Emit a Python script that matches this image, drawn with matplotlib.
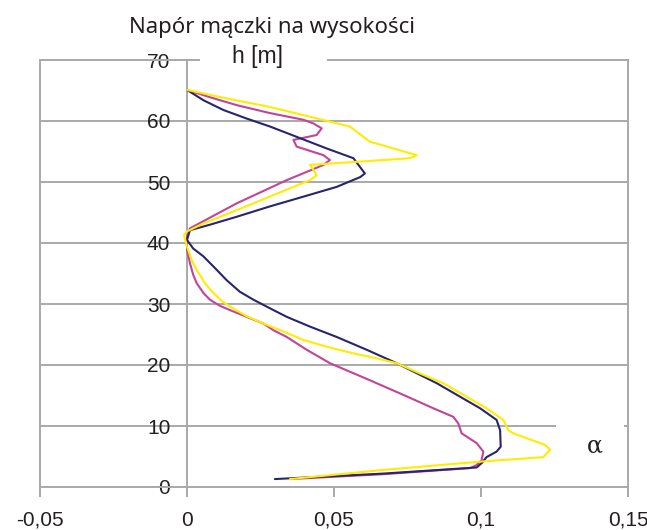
import matplotlib
matplotlib.use("Agg")
import matplotlib.pyplot as plt
from matplotlib.patches import Rectangle

# dane: wysokość h [m] i współczynnik alfa
h_granat = [65.1, 63.4, 61.8, 60.4, 59.1, 57.2, 55.5, 53.9, 51.4, 50.8, 49.2, 47.6,
            46.0, 44.3, 43.0, 42.1, 40.5, 39.1, 37.8, 35.9, 33.9, 32.0, 30.7, 29.3,
            27.9, 26.3, 24.6, 22.5, 20.3, 17.0, 12.9, 11.0, 9.3, 6.6, 5.8, 4.9,
            3.9, 3.2, 2.2, 1.3]
a_granat = [0.0, 0.0056, 0.0124, 0.0203, 0.0282, 0.0384, 0.0475, 0.0566, 0.0605,
            0.0589, 0.0509, 0.0396, 0.0282, 0.0169, 0.0078, 0.001, 0.0, 0.0021,
            0.0056, 0.0095, 0.0135, 0.018, 0.0226, 0.0282, 0.0339, 0.0418, 0.0509,
            0.0611, 0.0713, 0.085, 0.0997, 0.1053, 0.1065, 0.1067, 0.1053, 0.1019,
            0.1002, 0.0985, 0.0668, 0.0299]

h_magenta = [65.1, 63.9, 62.6, 61.3, 60.2, 59.6, 58.8, 57.7, 56.9, 55.8, 54.4, 53.6,
             52.8, 50.3, 46.5, 42.4, 41.0, 38.9, 36.7, 34.8, 33.4, 31.8, 30.7, 29.7,
             29.0, 27.9, 26.8, 25.7, 24.6, 22.5, 20.3, 18.9, 17.5, 15.1, 12.9, 11.5,
             10.4, 8.8, 7.2, 5.8, 4.4, 3.6, 3.1, 2.1, 1.3]
a_magenta = [0.0, 0.0078, 0.0169, 0.0282, 0.0396, 0.043, 0.0458, 0.0441, 0.0362,
             0.0373, 0.0464, 0.0486, 0.0464, 0.0339, 0.0169, 0.001, 0.0, 0.0, 0.001,
             0.0021, 0.0033, 0.0056, 0.0078, 0.0112, 0.0146, 0.0203, 0.026, 0.0294,
             0.0339, 0.0407, 0.0486, 0.0554, 0.0622, 0.0736, 0.0838, 0.0906, 0.0923,
             0.0934, 0.0985, 0.1008, 0.1002, 0.0985, 0.0963, 0.0668, 0.035]

h_zolty = [65.1, 63.7, 62.3, 60.7, 59.1, 56.6, 56.3, 54.4, 53.9, 52.8, 52.0, 51.1,
           50.3, 46.5, 43.2, 41.9, 41.3, 39.4, 37.2, 35.6, 33.4, 31.8, 30.5, 29.6,
           28.0, 26.8, 25.5, 24.1, 23.0, 21.9, 21.1, 20.3, 18.6, 17.0, 14.8, 12.9,
           11.0, 9.3, 8.8, 6.9, 6.1, 4.9, 4.2, 2.8, 1.3]
a_zolty = [0.0, 0.0135, 0.0282, 0.0418, 0.0554, 0.0622, 0.0645, 0.0781, 0.0759,
           0.0418, 0.043, 0.0441, 0.0418, 0.0226, 0.0056, 0.0, -0.001, 0.0, 0.0016,
           0.0033, 0.0061, 0.009, 0.0118, 0.0146, 0.0203, 0.026, 0.0328, 0.0396,
           0.0475, 0.0566, 0.0645, 0.0713, 0.0793, 0.0872, 0.0951, 0.1019, 0.1076,
           0.1093, 0.111, 0.1218, 0.1235, 0.1212, 0.1008, 0.0668, 0.035]

x_ticks = [-0.05, 0, 0.05, 0.1, 0.15]
x_labels = ['-0,05', '0', '0,05', '0,1', '0,15']
y_ticks = [0, 10, 20, 30, 40, 50, 60, 70]

SZARY = '#a7a9ac'
TEKST = '#231f20'
W, H = 647, 530

fig = plt.figure(figsize=(W / 100, H / 100), dpi=100)
ax = fig.add_axes([40 / W, 1 - 487 / H, (628 - 40) / W, (487 - 60) / H])

styl = dict(lw=1.5, solid_joinstyle='round', solid_capstyle='round')
ax.plot(a_granat, h_granat, color='#28246e', zorder=5, **styl)
ax.plot(a_magenta, h_magenta, color='#c2449a', zorder=4, **styl)
ax.plot(a_zolty, h_zolty, color='#ffec00', zorder=6, **styl)

ax.set_xlim(-0.05, 0.15)
ax.set_ylim(0, 70)
ax.set_xticks(x_ticks)
ax.set_xticklabels(x_labels)
ax.set_yticks(y_ticks)

for s in ['top', 'right', 'bottom', 'left']:
    ax.spines[s].set_color(SZARY)
    ax.spines[s].set_linewidth(1.4)
ax.spines['left'].set_position(('data', 0))
ax.axvline(-0.05, color=SZARY, lw=1.4, clip_on=False, zorder=2)

ax.yaxis.grid(True, color=SZARY, lw=1.4)
ax.set_axisbelow(True)

ax.tick_params(axis='x', direction='out', length=7, width=1.4, color=SZARY,
               pad=10, labelsize=15, labelcolor=TEKST)
ax.tick_params(axis='y', length=0, pad=12, labelsize=15, labelcolor=TEKST)
for lab in ax.get_xticklabels() + ax.get_yticklabels():
    lab.set_fontfamily('Liberation Sans')

# białe tła pod tytułami osi
fig.patches.append(Rectangle((200 / W, 1 - 70 / H), 127 / W, 20 / H,
                             transform=fig.transFigure, facecolor='white',
                             edgecolor='none', zorder=10))
fig.patches.append(Rectangle((556 / W, 1 - 472 / H), 68 / W, 58 / H,
                             transform=fig.transFigure, facecolor='white',
                             edgecolor='none', zorder=10))

fig.text(258 / W, 1 - 56 / H, 'h [m]', ha='center', va='center', fontsize=16.5,
         family='Liberation Sans', color=TEKST, zorder=11)
fig.text(595 / W, 1 - 446 / H, 'α', ha='center', va='center', fontsize=17,
         family='DejaVu Serif', color=TEKST, zorder=11)
fig.text(272 / W, 1 - 27 / H, 'Napór mączki na wysokości', ha='center', va='center',
         fontsize=16, family='Noto Sans', color=TEKST)

fig.savefig('out.png', dpi=100)
